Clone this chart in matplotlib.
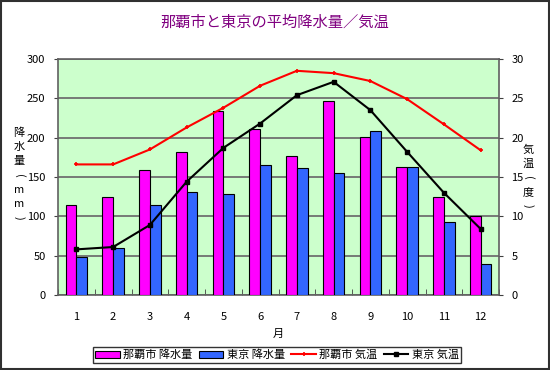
import numpy as np
import matplotlib
matplotlib.use("Agg")
import matplotlib.pyplot as plt
from matplotlib.patches import Rectangle

plt.rcParams['font.family'] = ['Noto Sans CJK JP', 'DejaVu Sans']

# data (monthly normals)
months = ['1', '2', '3', '4', '5', '6', '7', '8', '9', '10', '11', '12']
naha_rain = [114.5, 125.2, 159.4, 181.3, 233.9, 211.0, 176.9, 246.9, 201.2, 163.2, 124.3, 101.0]
tokyo_rain = [48.6, 60.2, 114.5, 130.3, 128.0, 164.9, 161.5, 155.1, 208.5, 163.1, 92.5, 39.6]
naha_temp = [16.6, 16.6, 18.5, 21.3, 23.8, 26.6, 28.5, 28.2, 27.2, 24.9, 21.7, 18.4]
tokyo_temp = [5.8, 6.1, 8.9, 14.4, 18.7, 21.8, 25.4, 27.1, 23.5, 18.2, 13.0, 8.4]

title = '那覇市と東京の平均降水量／気温'
left_label = ['降', '水', '量', '(', 'm', 'm', ')']
right_label = ['気', '温', '(', '度', ')']

fig = plt.figure(figsize=(5.5, 3.7), dpi=100)
fig.patch.set_facecolor('white')
ax = fig.add_axes([58 / 550, 75 / 370, 441 / 550, 236 / 370])
ax.set_facecolor('#CCFFCC')

x = np.arange(len(months))
w = 0.29
b1 = ax.bar(x - w / 2, naha_rain, w, color='#FF00FF', edgecolor='black', linewidth=0.8,
            label='那覇市 降水量', zorder=3)
b2 = ax.bar(x + w / 2, tokyo_rain, w, color='#3366FF', edgecolor='black', linewidth=0.8,
            label='東京 降水量', zorder=3)

ax.set_xlim(-0.5, len(months) - 0.5)
ax.set_ylim(0, 300)
ax.set_yticks(range(0, 301, 50))
ax.set_xticks(x)
ax.set_xticklabels(months)
ax.set_xticks(np.arange(-0.5, len(months), 1), minor=True)
ax.tick_params(axis='x', which='major', length=0, pad=12, labelsize=8)
ax.tick_params(axis='x', which='minor', length=4, direction='in', color='#404040')
ax.tick_params(axis='y', length=3, direction='out', labelsize=8, pad=6, color='#404040')
ax.grid(axis='y', color='#707070', linewidth=1.3, zorder=1)
for s in ax.spines.values():
    s.set_color('#606060')
    s.set_linewidth(1.2)
ax.set_xlabel('月', fontsize=8, labelpad=5)

ax2 = ax.twinx()
ax2.set_ylim(0, 30)
ax2.set_yticks(range(0, 31, 5))
ax2.tick_params(axis='y', length=3, direction='out', labelsize=8, pad=6, color='#404040')
for s in ax2.spines.values():
    s.set_visible(False)
l1, = ax2.plot(x, naha_temp, color='#FF0000', linewidth=1.5, marker='+', markersize=3,
               markeredgewidth=1.2, label='那覇市 気温', zorder=4)
l2, = ax2.plot(x, tokyo_temp, color='black', linewidth=1.5, marker='s', markersize=3.2,
               label='東京 気温', zorder=4)

fig.text(0.5, 1 - 22 / 370, title, ha='center', va='center', fontsize=11, color='#800080')

# vertical axis titles, one character per line; brackets turned for vertical writing
for i, ch in enumerate(left_label):
    rot = -90 if ch in '()' else 0
    fig.text(19 / 550, 1 - (133 + 14.2 * i) / 370, ch, ha='center', va='center',
             fontsize=8, rotation=rot)
for i, ch in enumerate(right_label):
    rot = -90 if ch in '()' else 0
    fig.text(528 / 550, 1 - (150 + 14 * i) / 370, ch, ha='center', va='center',
             fontsize=8, rotation=rot)

leg = fig.legend([b1, b2, l1, l2], [h.get_label() for h in [b1, b2, l1, l2]],
                 loc='center', bbox_to_anchor=(277 / 550, 1 - 355 / 370), ncol=4,
                 fontsize=8, frameon=True, fancybox=False, handlelength=2.2,
                 handletextpad=0.3, columnspacing=0.6, borderpad=0.2, borderaxespad=0)
leg.get_frame().set_edgecolor('black')
leg.get_frame().set_linewidth(1.0)

fig.patches.append(Rectangle((0.002, 0.003), 0.996, 0.994, transform=fig.transFigure,
                             fill=False, edgecolor='#303030', linewidth=1.5))

fig.savefig('out.png', dpi=100)
